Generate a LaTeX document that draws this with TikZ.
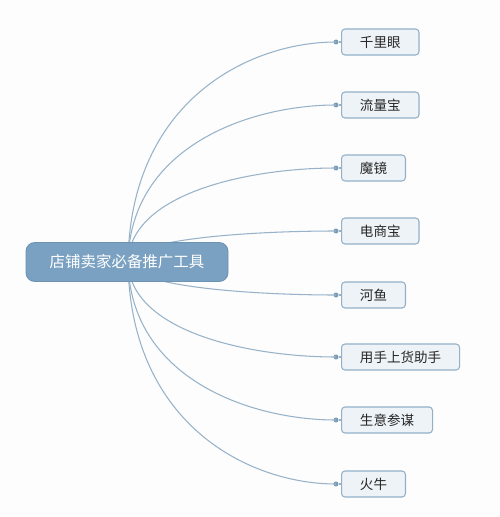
\documentclass[tikz,border=0pt]{standalone}
\usepackage{fontspec}
\setmainfont{Noto Sans CJK SC}
\usepackage{tikz}
\usetikzlibrary{positioning,calc}
\definecolor{MindBlue}{HTML}{7AA1C1}
\definecolor{MindEdge}{HTML}{6D93B3}
\definecolor{MindLine}{HTML}{97B3C9}
\definecolor{KnobBlue}{HTML}{7D9DB7}
\definecolor{SoftBox}{HTML}{EEF3F7}
\definecolor{BoxEdge}{HTML}{92B0C7}
\definecolor{PageGray}{HTML}{FDFDFD}

\begin{document}
\begin{tikzpicture}[x=0.02cm,y=-0.02cm,
  rootbox/.style={rectangle,rounded corners=5pt,fill=MindBlue,draw=MindEdge,line width=.5pt,
    text=white,font=\fontsize{8.8pt}{10pt}\selectfont,minimum width=202*0.02cm,minimum height=39*0.02cm,inner sep=0pt},
  leafbox/.style={rectangle,rounded corners=2pt,fill=SoftBox,draw=BoxEdge,line width=.6pt,
    text=black!85,font=\fontsize{7.7pt}{9pt}\selectfont,minimum height=26*0.02cm,inner xsep=10.5pt,inner ysep=0pt,anchor=west},
  branch/.style={draw=MindLine,line width=.6pt},
  knob/.style={circle,fill=KnobBlue,draw=none,inner sep=0pt,minimum size=5*0.02cm}]
  % page frame keeps the proportions of the reference
  \fill[PageGray] (0,0) rectangle (500,517);
  \path[use as bounding box] (0,0) rectangle (500,517);

  % the eight tools, one dot each in front of the box
  \foreach \k/\yy/\txt in {1/42/千里眼,2/105/流量宝,3/168/魔镜,4/231/电商宝,5/295/河鱼,6/357/用手上货助手,7/420/生意参谋,8/484/火牛}{
    \node[knob] (dot\k) at (336,\yy) {};
    \node[leafbox] (tool\k) at (341,\yy) {\txt};
    \draw[branch] (dot\k) -- (tool\k.west);
    \draw[branch] (128,262) .. controls (130,{\yy+(262-\yy)*0.264}) and (250,\yy) .. (dot\k.center);
  }

  \node[rootbox] (root) at (127,262) {店铺卖家必备推广工具};
\end{tikzpicture}
\end{document}
